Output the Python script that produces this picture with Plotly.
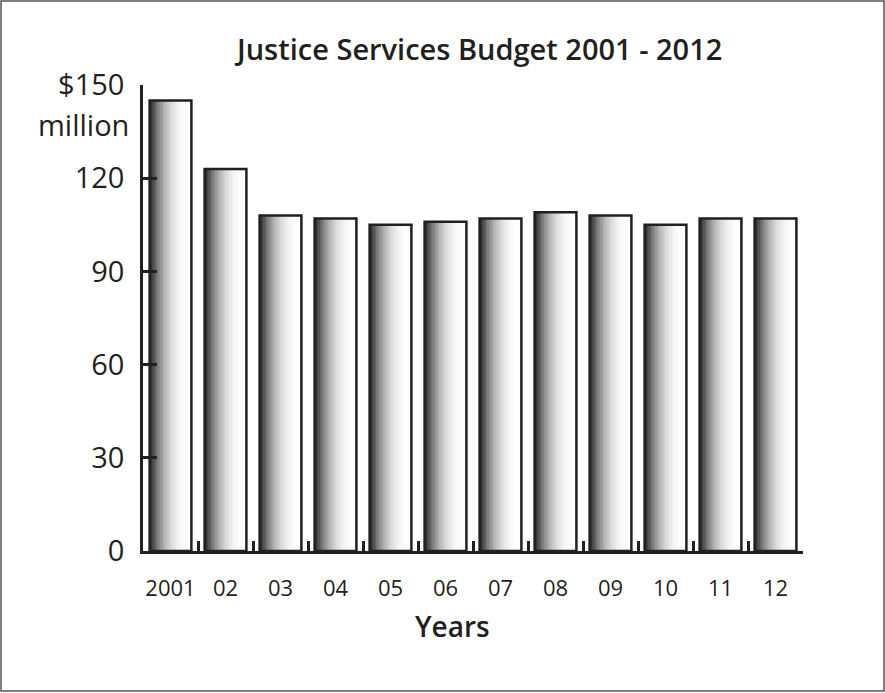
import plotly.graph_objects as go

years = ["2001", "02", "03", "04", "05", "06", "07", "08", "09", "10", "11", "12"]
budget = [145, 123, 108, 107, 105, 106, 107, 109, 108, 105, 107, 107]
y_ticks = [0, 30, 60, 90, 120, 150]
y_ticktext = ["0", "30", "60", "90", "120", "$150"]

INK = "#231f20"
FONT = "Open Sans"
W = 0.76
N = 30

fig = go.Figure()
for i in range(N):
    t = (i + 0.5) / N
    g = int(round(25 + 230 * (1 - (1 - t) ** 2.4)))
    fig.add_trace(go.Bar(
        x=years, y=budget,
        width=W / N * 1.15,
        offset=-W / 2 + i * W / N,
        marker=dict(color=f"rgb({g},{g},{g})", line=dict(width=0)),
        hoverinfo="skip", showlegend=False,
    ))
fig.add_trace(go.Bar(
    x=years, y=budget, width=W, offset=-W / 2,
    marker=dict(color="rgba(0,0,0,0)", line=dict(color=INK, width=2.5)),
    showlegend=False,
))

fig.update_layout(
    width=885, height=693,
    margin=dict(l=143, r=82, t=85, b=142),
    barmode="overlay",
    plot_bgcolor="white", paper_bgcolor="white",
    font=dict(family=FONT, color=INK),
    xaxis=dict(
        type="category", range=[-0.5, 11.5],
        showline=True, linecolor=INK, linewidth=2.5,
        ticks="inside", ticklen=10, tickwidth=2.5, tickcolor=INK,
        tickson="boundaries", ticklabelstandoff=16, tickangle=0,
        tickfont=dict(size=22, family=FONT, color=INK),
        showgrid=False, zeroline=False,
    ),
    yaxis=dict(
        range=[0, 150], tickvals=y_ticks, ticktext=y_ticktext,
        showline=True, linecolor=INK, linewidth=2.5,
        ticks="inside", ticklen=14, tickwidth=2.5, tickcolor=INK,
        ticklabelstandoff=10,
        tickfont=dict(size=29, family=FONT, color=INK),
        showgrid=False, zeroline=False,
    ),
    annotations=[
        dict(text="Justice Services Budget 2001 - 2012", xref="paper", yref="paper",
             x=(478 - 143) / 660, y=(551 - 48) / 466, showarrow=False,
             font=dict(size=29, family=FONT, color=INK, weight=600),
             xanchor="center", yanchor="middle"),
        dict(text="million", xref="paper", yref="paper",
             x=(131 - 143) / 660, y=(551 - 124) / 466, showarrow=False,
             font=dict(size=29, family=FONT, color=INK), xanchor="right", yanchor="middle"),
        dict(text="Years", xref="paper", yref="paper",
             x=(452 - 143) / 660, y=(551 - 626) / 466, showarrow=False,
             font=dict(size=28, family=FONT, color=INK, weight=600),
             xanchor="center", yanchor="middle"),
    ],
    shapes=[
        dict(type="rect", xref="paper", yref="paper",
             x0=(1 - 143) / 660, x1=(884 - 143) / 660,
             y0=(551 - 691) / 466, y1=(551 - 1) / 466,
             line=dict(color="#555555", width=1.5), fillcolor="rgba(0,0,0,0)", layer="below"),
    ],
)

fig.write_html("out.html", config={"displayModeBar": False},
               post_script="document.body.style.margin='0';")
